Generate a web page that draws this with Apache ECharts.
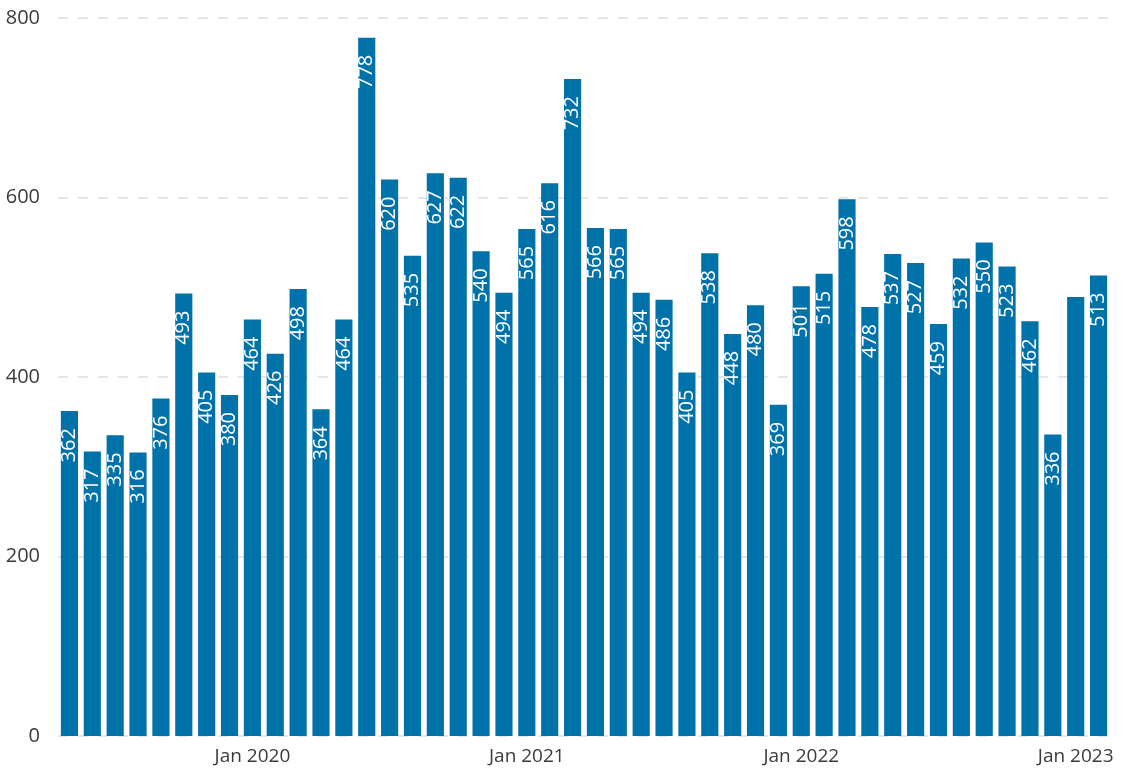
<!DOCTYPE html>
<html>
<head>
<meta charset="utf-8">
<script src="https://cdn.jsdelivr.net/npm/echarts@6/dist/echarts.min.js"></script>
<style>
  html, body { margin: 0; padding: 0; background: #fff; }
  #chart { width: 1127px; height: 769px; }
</style>
</head>
<body>
<div id="chart"></div>
<script>
// monthly categories, May 2019 .. Feb 2023
const months = ['Jan', 'Feb', 'Mar', 'Apr', 'May', 'Jun', 'Jul', 'Aug', 'Sep', 'Oct', 'Nov', 'Dec']
const categories = []
for (let y = 2019; y <= 2023; y++) {
  months.forEach(function(m, i) {
    if ((y === 2019 && i < 4) || (y === 2023 && i > 1)) return
    categories.push(m + ' ' + y)
  })
}

const values = [
  362, 317, 335, 316, 376, 493, 405, 380,
  464, 426, 498, 364, 464, 778, 620, 535, 627, 622, 540, 494,
  565, 616, 732, 566, 565, 494, 486, 405, 538, 448, 480, 369,
  501, 515, 598, 478, 537, 527, 459, 532, 550, 523, 462, 336,
  489, 513
]
// bars whose data label is not shown in the original
const hiddenLabels = ['Jan 2023']

const yTicks = [0, 200, 400, 600, 800]

const chart = echarts.init(document.getElementById('chart'))
chart.setOption({
  backgroundColor: '#fff',
  animation: false,
  grid: {
    left: 58,
    right: 17,
    top: 18,
    bottom: 33
  },
  xAxis: {
    type: 'category',
    data: categories,
    axisLine: { show: false },
    axisTick: { show: false },
    axisLabel: {
      interval: function(idx, val) {
        return val.indexOf('Jan') === 0
      },
      color: '#3b3b3b',
      fontSize: 19,
      fontFamily: 'Segoe UI, Open Sans, sans-serif',
      margin: 11
    }
  },
  yAxis: {
    type: 'value',
    min: yTicks[0],
    max: yTicks[yTicks.length - 1],
    interval: 200,
    axisLine: { show: false },
    axisTick: { show: false },
    axisLabel: {
      color: '#3b3b3b',
      fontSize: 20,
      fontFamily: 'Segoe UI, Open Sans, sans-serif',
      margin: 18
    },
    splitLine: {
      lineStyle: {
        color: '#e6e6e6',
        type: [10, 10],
        width: 2
      }
    }
  },
  series: [
    {
      type: 'bar',
      barCategoryGap: '25%',
      itemStyle: { color: '#0072AA' },
      data: values.map(function(v, i) {
        return {
          value: v,
          label: { show: hiddenLabels.indexOf(categories[i]) < 0 }
        }
      }),
      label: {
        show: true,
        position: 'insideTop',
        rotate: 90,
        align: 'right',
        verticalAlign: 'middle',
        distance: 15,
        offset: [-2, 0],
        color: '#fff',
        fontSize: 20,
        fontFamily: 'Segoe UI, Open Sans, sans-serif'
      }
    }
  ]
})
</script>
</body>
</html>
